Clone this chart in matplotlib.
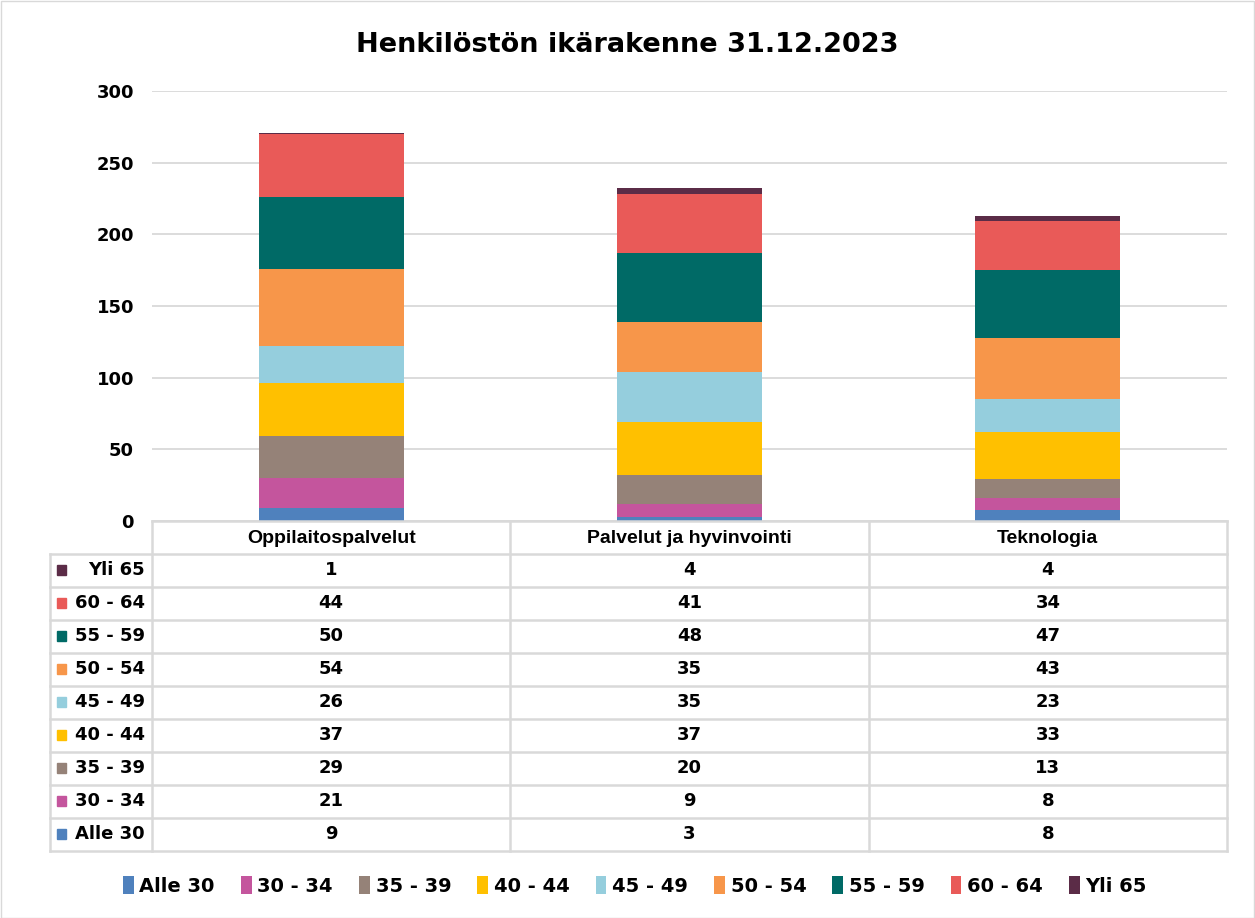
import matplotlib.pyplot as plt
import numpy as np
from matplotlib.patches import Rectangle

categories = ['Oppilaitospalvelut', 'Palvelut ja hyvinvointi', 'Teknologia']
age_groups = ['Alle 30', '30 - 34', '35 - 39', '40 - 44', '45 - 49', '50 - 54', '55 - 59', '60 - 64', 'Yli 65']
alle_30 = [9, 3, 8]
v_30_34 = [21, 9, 8]
v_35_39 = [29, 20, 13]
v_40_44 = [37, 37, 33]
v_45_49 = [26, 35, 23]
v_50_54 = [54, 35, 43]
v_55_59 = [50, 48, 47]
v_60_64 = [44, 41, 34]
yli_65 = [1, 4, 4]
series = [alle_30, v_30_34, v_35_39, v_40_44, v_45_49, v_50_54, v_55_59, v_60_64, yli_65]
colors = ['#4F81BD', '#C4559D', '#958278', '#FFC000', '#95CEDD', '#F7964A', '#006A66', '#E95A58', '#5B2C47']
yticks = [0, 50, 100, 150, 200, 250, 300]

W, H = 1255, 918
fig = plt.figure(figsize=(W / 100, H / 100), dpi=100)
fig.patches.append(Rectangle((0.5 / W, 0.5 / H), 1 - 1.5 / W, 1 - 1.5 / H, transform=fig.transFigure,
                             fill=False, edgecolor='#D9D9D9', linewidth=1))

ax_l, ax_r, ax_b, ax_t = 152, 1227, 521, 91
ax = fig.add_axes([ax_l / W, 1 - ax_b / H, (ax_r - ax_l) / W, (ax_b - ax_t) / H])
x = np.arange(len(categories))
bottom = np.zeros(len(categories))
for name, vals, c in zip(age_groups, series, colors):
    ax.bar(x, vals, width=0.405, bottom=bottom, color=c, label=name, zorder=3)
    bottom += np.array(vals)

ax.set_xlim(-0.5, len(categories) - 0.5)
ax.set_ylim(0, 300)
ax.set_yticks(yticks)
ax.set_yticklabels([str(t) for t in yticks], fontsize=13, fontweight='bold', family='DejaVu Sans')
ax.tick_params(axis='y', length=0, pad=13)
ax.set_xticks([])
ax.grid(axis='y', color='#D9D9D9', linewidth=1.3, zorder=0)
for s in ax.spines.values():
    s.set_visible(False)

fig.text(0.5, 1 - 45 / H, 'Henkilöstön ikärakenne 31.12.2023', ha='center', va='center',
         fontsize=19.5, fontweight='bold', family='DejaVu Sans')

# data table below the plot, in pixel coordinates
ov = fig.add_axes([0, 0, 1, 1], facecolor='none')
ov.set_xlim(0, W)
ov.set_ylim(H, 0)
ov.axis('off')
line_kw = dict(color='#D9D9D9', linewidth=1.8)
col_edges = [ax_l + i * (ax_r - ax_l) / len(categories) for i in range(len(categories) + 1)]
lab_left = 50
head_top, head_bot, row_h = 521, 553.5, 33
n_rows = len(age_groups)
table_bot = head_bot + n_rows * row_h

ov.plot([ax_l, ax_r], [head_top, head_top], **line_kw)
for yy in [head_bot + i * row_h for i in range(n_rows + 1)]:
    ov.plot([lab_left, ax_r], [yy, yy], **line_kw)
ov.plot([lab_left, lab_left], [head_bot, table_bot], **line_kw)
for xx in col_edges:
    ov.plot([xx, xx], [head_top, table_bot], **line_kw)

head_kw = dict(fontsize=14, fontweight='bold', family='Liberation Sans', va='center')
txt_kw = dict(fontsize=13, fontweight='bold', family='DejaVu Sans', va='center')
for j, cat in enumerate(categories):
    cx = (col_edges[j] + col_edges[j + 1]) / 2
    ov.text(cx, (head_top + head_bot) / 2 + 1, cat, ha='center', **head_kw)

for i, (name, vals, c) in enumerate(zip(age_groups[::-1], series[::-1], colors[::-1])):
    cy = head_bot + (i + 0.5) * row_h
    ov.add_patch(Rectangle((57, cy - 5), 9, 10, color=c))
    ov.text(145, cy, name, ha='right', **txt_kw)
    for j, v in enumerate(vals):
        cx = (col_edges[j] + col_edges[j + 1]) / 2
        ov.text(cx, cy, str(v), ha='center', **txt_kw)

leg = fig.legend(loc='center', bbox_to_anchor=(635 / W, 1 - 886 / H), ncol=len(age_groups), frameon=False,
                 prop={'family': 'DejaVu Sans', 'weight': 'bold', 'size': 14},
                 handlelength=0.55, handleheight=1.0, handletextpad=0.3, columnspacing=1.34)

fig.savefig('out.png', dpi=100)
